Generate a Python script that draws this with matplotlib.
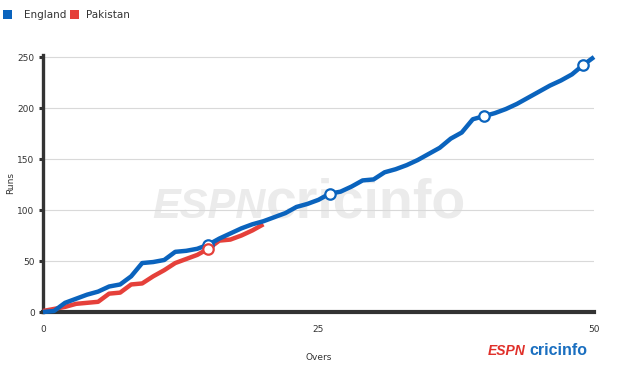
import matplotlib
matplotlib.use("Agg")
import matplotlib.pyplot as plt

overs_eng = list(range(0, 51))
runs_eng = [0, 1, 9, 13, 17, 20, 25, 27, 35, 48, 49, 51, 59, 60, 62, 66, 72, 77, 82, 86,
            89, 93, 97, 103, 106, 110, 116, 118, 123, 129, 130, 137, 140, 144, 149, 155,
            161, 170, 176, 189, 192, 195, 199, 204, 210, 216, 222, 227, 233, 242, 250]
overs_pak = list(range(0, 21))
runs_pak = [1, 3, 5, 8, 9, 10, 18, 19, 27, 28, 35, 41, 48, 52, 56, 62, 70, 71, 75, 80, 86]
wkts_eng = [15, 26, 40, 49]
wkts_pak = [15]

blue = "#0a63bd"
red = "#e5403a"

fig = plt.figure(figsize=(6.18, 3.76), dpi=100)
ax = fig.add_axes([43/618, (376-312)/376, (594-43)/618, (312-55)/376])

ax.set_xlim(0, 50)
ax.set_ylim(0, 252)

# watermark (inside the axes, below the data lines)
ax.text(152/618, 1-218/376, "ESPN", transform=fig.transFigure, fontsize=30,
        fontweight="bold", style="italic", color="#ebebeb", family="Liberation Sans",
        ha="left", va="baseline", zorder=0.5)
ax.text(266/618, 1-218/376, "cricinfo", transform=fig.transFigure, fontsize=40,
        fontweight="bold", color="#ebebeb", family="Liberation Sans",
        ha="left", va="baseline", zorder=0.5)

ax.set_yticks([0, 50, 100, 150, 200, 250])
ax.set_xticks([0, 25, 50])
ax.grid(axis="y", color="#d9d9d9", linewidth=0.8, zorder=0.3)
ax.set_axisbelow(True)
for s in ["top", "right"]:
    ax.spines[s].set_visible(False)
ax.spines["left"].set_color("#333333")
ax.spines["left"].set_linewidth(2.4)
ax.spines["bottom"].set_color("#333333")
ax.spines["bottom"].set_linewidth(3.0)
ax.tick_params(axis="y", length=3, width=2.2, color="#333333", labelsize=6.5,
               labelcolor="#333333", pad=3)
ax.tick_params(axis="x", length=0, labelsize=6.5, labelcolor="#333333", pad=9)

ax.plot(overs_pak, runs_pak, color=red, linewidth=3.2, solid_capstyle="butt",
        solid_joinstyle="round", zorder=3, clip_on=False)
ax.plot(overs_eng, runs_eng, color=blue, linewidth=3.2, solid_capstyle="butt",
        solid_joinstyle="round", zorder=4, clip_on=False)
ax.plot(wkts_eng, [runs_eng[o] for o in wkts_eng], linestyle="none", marker="o",
        markersize=7.5, markerfacecolor="white", markeredgecolor=blue,
        markeredgewidth=1.6, zorder=5, clip_on=False)
ax.plot(wkts_pak, [runs_pak[o] for o in wkts_pak], linestyle="none", marker="o",
        markersize=7.5, markerfacecolor="white", markeredgecolor=red,
        markeredgewidth=1.6, zorder=6, clip_on=False)

ax.set_xlabel("Overs", fontsize=6.5, color="#333333", labelpad=14)
ax.set_ylabel("Runs", fontsize=6.5, color="#333333", labelpad=2)

# legend
fig.patches.append(plt.Rectangle((3/618, 1-19/376), 9/618, 9/376, transform=fig.transFigure,
                                 facecolor=blue, edgecolor="none"))
fig.text(24/618, 1-14.5/376, "England", fontsize=7.5, color="#333333", va="center", ha="left")
fig.patches.append(plt.Rectangle((70/618, 1-19/376), 9/618, 9/376, transform=fig.transFigure,
                                 facecolor=red, edgecolor="none"))
fig.text(86/618, 1-14.5/376, "Pakistan", fontsize=7.5, color="#333333", va="center", ha="left")

# logo bottom right
fig.text(488/618, 1-355/376, "ESPN", fontsize=10, fontweight="bold", style="italic",
         color="#e0302a", family="Liberation Sans", ha="left", va="baseline")
fig.text(529/618, 1-355/376, "cricinfo", fontsize=11.5, fontweight="bold",
         color="#1a6fc0", family="Liberation Sans", ha="left", va="baseline")

fig.savefig("out.png", dpi=100)
